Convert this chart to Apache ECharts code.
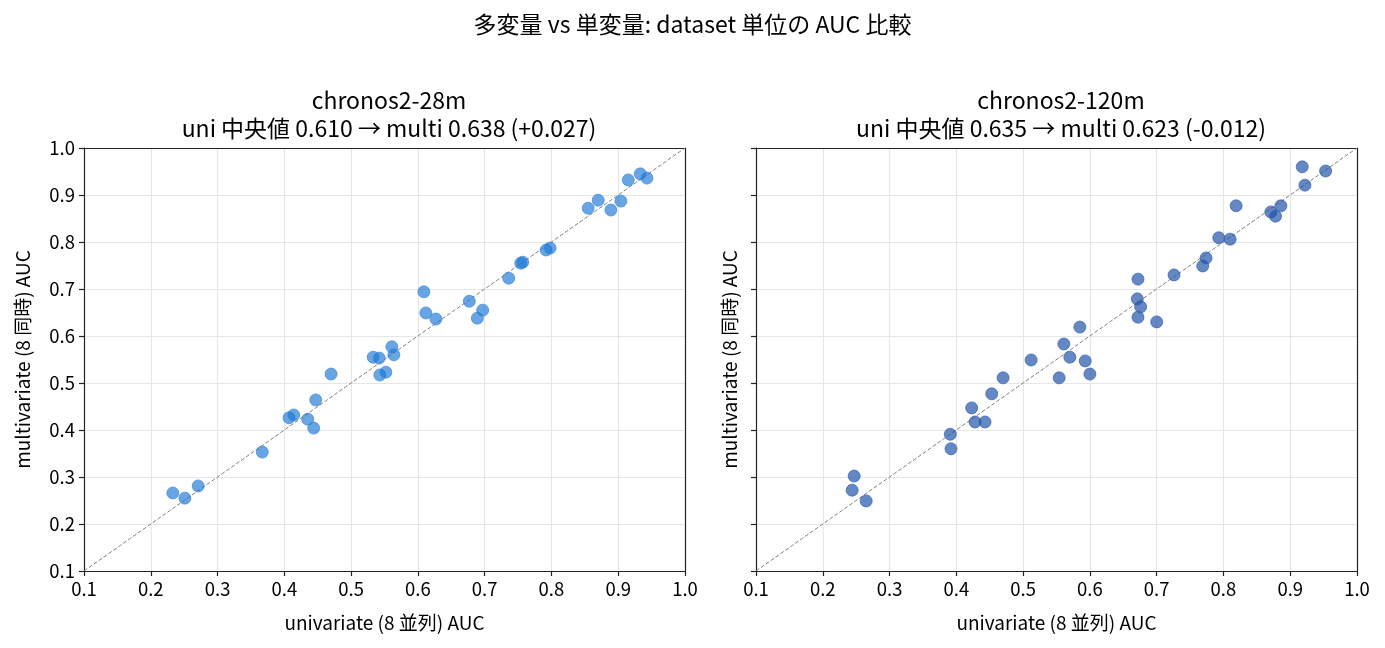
<!doctype html>
<html lang="ja">
<head>
<meta charset="utf-8">
<title>多変量 vs 単変量</title>
<style>
  html, body { margin: 0; padding: 0; background: #fff; }
  #main { width: 1385px; height: 648px; }
</style>
</head>
<body>
<div id="main"></div>
<script src="https://cdn.jsdelivr.net/npm/echarts@6/dist/echarts.min.js"></script>
<script>
var FONT = '"Noto Sans CJK JP", "Noto Sans", sans-serif';

// chronos2-28m: [univariate AUC, multivariate AUC]
var pts28m = [
  [0.233, 0.266], [0.251, 0.255], [0.271, 0.281], [0.367, 0.353],
  [0.407, 0.426], [0.414, 0.432], [0.435, 0.423], [0.444, 0.404],
  [0.447, 0.464], [0.470, 0.519], [0.533, 0.555], [0.542, 0.553],
  [0.543, 0.517], [0.552, 0.523], [0.561, 0.577], [0.564, 0.560],
  [0.609, 0.694], [0.612, 0.649], [0.627, 0.636], [0.677, 0.674],
  [0.689, 0.638], [0.697, 0.655], [0.736, 0.723], [0.754, 0.755],
  [0.757, 0.757], [0.792, 0.783], [0.798, 0.787], [0.855, 0.872],
  [0.870, 0.889], [0.889, 0.868], [0.904, 0.887], [0.915, 0.932],
  [0.933, 0.945], [0.943, 0.936]
];

// chronos2-120m
var pts120m = [
  [0.244, 0.272], [0.247, 0.302], [0.265, 0.249], [0.391, 0.391],
  [0.392, 0.360], [0.423, 0.447], [0.428, 0.417], [0.443, 0.417],
  [0.453, 0.477], [0.470, 0.511], [0.512, 0.549], [0.554, 0.511],
  [0.561, 0.583], [0.570, 0.555], [0.585, 0.619], [0.593, 0.547],
  [0.600, 0.519], [0.672, 0.721], [0.671, 0.679], [0.676, 0.662],
  [0.672, 0.640], [0.700, 0.630], [0.726, 0.730], [0.769, 0.749],
  [0.774, 0.766], [0.793, 0.809], [0.810, 0.806], [0.819, 0.877],
  [0.871, 0.864], [0.878, 0.855], [0.886, 0.877], [0.918, 0.960],
  [0.922, 0.921], [0.953, 0.951]
];

var diag = [[0.1, 0.1], [1.0, 1.0]];
var panelTitles = [
  'chronos2-28m\nuni 中央値 0.610 → multi 0.638 (+0.027)',
  'chronos2-120m\nuni 中央値 0.635 → multi 0.623 (-0.012)'
];
var xName = 'univariate (8 並列) AUC';
var yName = 'multivariate (8 同時) AUC';

var myChart = echarts.init(document.getElementById('main'), null, { renderer: 'canvas' });

function fmt(v) { return v.toFixed(1); }

function xAxisFor(i) {
  return {
    gridIndex: i, type: 'value', min: 0.1, max: 1.0, interval: 0.1,
    name: xName, nameLocation: 'middle', nameGap: 42,
    nameTextStyle: { color: '#000', fontSize: 19, fontFamily: FONT },
    axisLine: { show: true, onZero: false, lineStyle: { color: '#222', width: 1.2 } },
    axisTick: { show: true, inside: false, length: 5, lineStyle: { color: '#222', width: 1.2 } },
    axisLabel: { color: '#000', fontSize: 18.5, fontFamily: FONT, margin: 9, formatter: fmt },
    splitLine: { show: true, showMinLine: false, showMaxLine: false, lineStyle: { color: '#e6e6e6', width: 1.2 } }
  };
}
function yAxisFor(i) {
  return {
    gridIndex: i, type: 'value', min: 0.1, max: 1.0, interval: 0.1,
    name: yName, nameLocation: 'middle', nameGap: i === 0 ? 52 : 17,
    nameTextStyle: { color: '#000', fontSize: 19, fontFamily: FONT },
    axisLine: { show: true, onZero: false, lineStyle: { color: '#222', width: 1.2 } },
    axisTick: { show: true, inside: false, length: 5, lineStyle: { color: '#222', width: 1.2 } },
    axisLabel: { show: i === 0, color: '#000', fontSize: 18.5, fontFamily: FONT, margin: 9, formatter: fmt },
    splitLine: { show: true, showMinLine: false, showMaxLine: false, lineStyle: { color: '#e6e6e6', width: 1.2 } }
  };
}
// top / right spines
function spine(i, pos) {
  return {
    gridIndex: i, type: 'value', min: 0.1, max: 1.0, position: pos,
    axisLine: { show: true, onZero: false, lineStyle: { color: '#222', width: 1.2 } },
    axisTick: { show: false }, axisLabel: { show: false }, splitLine: { show: false }
  };
}

var option = {
  backgroundColor: '#fff',
  animation: false,
  title: [
    { text: '多変量 vs 単変量: dataset 単位の AUC 比較', left: 'center', top: 8,
      textStyle: { color: '#000', fontSize: 23, fontWeight: 'normal', fontFamily: FONT } },
    { text: panelTitles[0], left: 384, textAlign: 'center', top: 81,
      textStyle: { color: '#000', fontSize: 23, fontWeight: 'normal', fontFamily: FONT, lineHeight: 28 } },
    { text: panelTitles[1], left: 1056, textAlign: 'center', top: 81,
      textStyle: { color: '#000', fontSize: 23, fontWeight: 'normal', fontFamily: FONT, lineHeight: 28 } }
  ],
  grid: [
    { left: 84, top: 148, width: 601, height: 423 },
    { left: 756, top: 148, width: 601, height: 423 }
  ],
  xAxis: [xAxisFor(0), xAxisFor(1), spine(0, 'top'), spine(1, 'top')],
  yAxis: [yAxisFor(0), yAxisFor(1), spine(0, 'right'), spine(1, 'right')],
  series: [
    { type: 'line', xAxisIndex: 0, yAxisIndex: 0, data: diag, symbol: 'none', silent: true,
      lineStyle: { color: '#808080', width: 1, type: [4, 2] }, z: 1 },
    { type: 'line', xAxisIndex: 1, yAxisIndex: 1, data: diag, symbol: 'none', silent: true,
      lineStyle: { color: '#808080', width: 1, type: [4, 2] }, z: 1 },
    { type: 'scatter', xAxisIndex: 0, yAxisIndex: 0, data: pts28m, symbolSize: 12,
      itemStyle: { color: 'rgba(28,118,212,0.82)', borderColor: 'rgba(60,140,220,0.9)', borderWidth: 1 }, z: 3 },
    { type: 'scatter', xAxisIndex: 1, yAxisIndex: 1, data: pts120m, symbolSize: 12,
      itemStyle: { color: 'rgba(30,80,165,0.85)', borderColor: 'rgba(50,100,180,0.9)', borderWidth: 1 }, z: 3 }
  ]
};

myChart.setOption(option);
</script>
</body>
</html>
